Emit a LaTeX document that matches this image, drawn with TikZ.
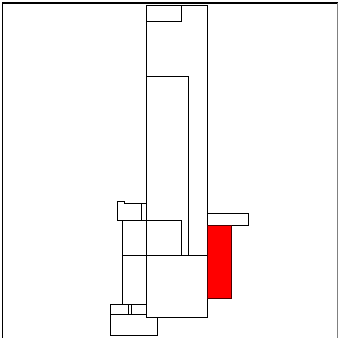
\documentclass[tikz,border=0pt]{standalone}
\usepackage{tikz}
\usepackage{xcolor}
\usetikzlibrary{calc}

\begin{document}
\begin{tikzpicture}[x=1pt, y=-1pt,
    block/.style={draw=black, fill=white, line width=0.5pt},
    hot/.style={draw=black!70!red, fill=red, line width=0.5pt}]
    \useasboundingbox (0,0) rectangle (338,338);

    % Frame
    \draw[line width=1.2pt] (2.5,338) -- (2.5,3) -- (338,3);
    \draw[gray, line width=0.5pt] (337,3) -- (337,338);

    % Tall column with its upper parts
    \draw[block] (146,5) rectangle (207,317);
    \draw[block] (146,5) rectangle (181,21);
    \draw[block] (146,76) rectangle (188,255);

    % Left side, middle
    \draw[block] (117,220) -- (117,201) -- (124,201) -- (124,203)
        -- (146,203) -- (146,220) -- cycle;
    \draw (141,203) -- (141,220);
    \draw[block] (122,220) rectangle (181,255);
    \draw[line width=0.9pt] (146,203) -- (146,255);

    % Lower part
    \draw[block] (122,255) rectangle (207,304);
    \draw[block] (110,314) rectangle (157,335);
    \draw[block] (146,255) rectangle (207,317);
    \draw[block] (110,304) rectangle (128,314);
    \draw[block] (131,304) rectangle (146,314);

    % Right side: bar and red block
    \draw[block] (207,213) rectangle (248,225);
    \draw[hot] (207,225) rectangle (231,298);
\end{tikzpicture}
\end{document}
